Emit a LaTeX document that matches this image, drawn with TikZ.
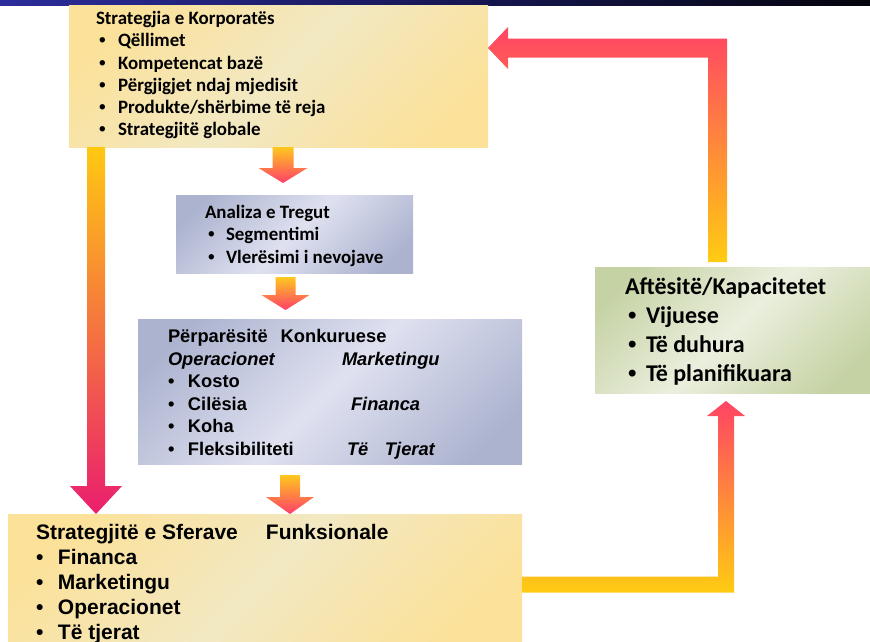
\documentclass[tikz,border=0pt]{standalone}
\usepackage{fontspec}
\usetikzlibrary{calc}
\newfontfamily\calfont{Carlito}
\newfontfamily\arfont{Liberation Sans}

% panel and arrow colours
\definecolor{barblue}{RGB}{44,44,155}
\definecolor{barmid}{RGB}{24,24,88}
\definecolor{barend}{RGB}{4,4,12}
\definecolor{goldA}{RGB}{252,225,152}
\definecolor{goldB}{RGB}{242,232,194}
\definecolor{blueA}{RGB}{172,179,207}
\definecolor{blueB}{RGB}{223,225,240}
\definecolor{greenA}{RGB}{197,210,164}
\definecolor{greenB}{RGB}{235,239,222}
\definecolor{ayellow}{RGB}{255,204,18}
\definecolor{ared}{RGB}{255,68,100}
\definecolor{amagenta}{RGB}{234,30,110}
\definecolor{atop}{RGB}{255,200,30}
\definecolor{atip}{RGB}{255,62,106}

% diagonal sheen: tinted corners, pale band across the middle
\pgfdeclarehorizontalshading{goldsheen}{100bp}{color(0bp)=(goldA); color(22bp)=(goldA); color(50bp)=(goldB); color(78bp)=(goldA); color(100bp)=(goldA)}
\pgfdeclarehorizontalshading{bluesheen}{100bp}{color(0bp)=(blueA); color(22bp)=(blueA); color(50bp)=(blueB); color(78bp)=(blueA); color(100bp)=(blueA)}
\pgfdeclarehorizontalshading{greensheen}{100bp}{color(0bp)=(greenA); color(22bp)=(greenA); color(50bp)=(greenB); color(78bp)=(greenA); color(100bp)=(greenA)}

% straight block arrow pointing down: style, top point, tip point,
% shaft half width, head half width, head length
\newcommand\dropblock[6]{%
  \path[#1] let \p1=(#2), \p2=(#3) in
    (\x1-#4,\y1) -- (\x1+#4,\y1) -- (\x1+#4,\y2+#6) -- (\x1+#5,\y2+#6)
    -- (\x1,\y2) -- (\x1-#5,\y2+#6) -- (\x1-#4,\y2+#6) -- cycle;}

\tikzset{
  panel/.style={anchor=north west, inner sep=0pt, outer sep=0pt, shade, shading angle=-45},
  goldpanel/.style={panel, shading=goldsheen},
  bluepanel/.style={panel, shading=bluesheen},
  greenpanel/.style={panel, shading=greensheen},
  dropshade/.style={top color=atop, bottom color=atip},
  longshade/.style={top color=ayellow!95!orange, bottom color=amagenta},
  elbowshade/.style={top color=ared, bottom color=ayellow},
  txt/.style={anchor=base west, inner sep=0pt, outer sep=0pt, text=black},
  caltxt/.style={txt, font=\calfont\bfseries\fontsize{18.9}{22}\selectfont},
  capstxt/.style={txt, font=\calfont\bfseries\fontsize{24}{28}\selectfont},
  artxt/.style={txt, font=\arfont\bfseries\fontsize{18.3}{22}\selectfont},
  arbig/.style={txt, font=\arfont\bfseries\fontsize{21}{25}\selectfont},
}
% bullet set in a box of the given width
\newcommand\bul[1]{\makebox[#1][l]{\textbullet}}
% round bullet taken from the sans face, for the Carlito lists
\newcommand\dotbul[1]{\makebox[#1][l]{\arfont\textbullet}}

\begin{document}
\begin{tikzpicture}[x=1pt, y=-1pt]
\useasboundingbox (0,0) rectangle (870,641);
\clip (0,0) rectangle (870,641);

% title bar strip along the top edge
\fill[left color=barblue, right color=barend, middle color=barmid] (0,0) rectangle (870,5);

% panels
\node[goldpanel, minimum width=419pt, minimum height=142pt] (corp) at (69,5) {};
\node[bluepanel, minimum width=237pt, minimum height=78pt] (ana) at (176,195) {};
\node[bluepanel, minimum width=384pt, minimum height=145pt] (comp) at (138,319) {};
\node[goldpanel, minimum width=514pt, minimum height=127pt] (func) at (8,514) {};
\node[greenpanel, minimum width=275pt, minimum height=126pt] (cap) at (595,267) {};

% downward block arrows
\dropblock{dropshade}{$(corp.south west)+(214,0)$}{$(ana.north west)+(107,-12)$}{10.5pt}{24.5pt}{15pt}
\dropblock{dropshade}{$(ana.south west)+(109.5,4)$}{$(comp.north west)+(147.5,-9)$}{10pt}{24pt}{15pt}
\dropblock{dropshade}{$(comp.south west)+(152,11)$}{$(func.north west)+(282,0)$}{10pt}{24pt}{17pt}
\dropblock{longshade}{$(corp.south west)+(27,0)$}{$(func.north west)+(88,0)$}{9pt}{26pt}{28pt}

% functional strategies -> capabilities
\path[elbowshade] let \p1=($(func.north east)+(0,70.5)$), \p2=($(cap.south west)+(131,8)$) in
  (\x1,\y1+8pt) -- (\x2-8pt,\y1+8pt) -- (\x2-8pt,\y2-15pt) -- (\x2-19pt,\y2-15pt)
  -- (\x2,\y2) -- (\x2+19pt,\y2-15pt) -- (\x2+8pt,\y2-15pt) -- (\x2+8pt,\y1-8pt)
  -- (\x1,\y1-8pt) -- cycle;

% capabilities -> corporate strategy
\path[elbowshade] let \p1=($(cap.north west)+(122.5,-5)$), \p2=($(corp.north east)+(0,43)$) in
  (\x1-9.5pt,\y1) -- (\x1-9.5pt,\y2-9.5pt) -- (\x2+20pt,\y2-9.5pt) -- (\x2+20pt,\y2-21pt)
  -- (\x2,\y2) -- (\x2+20pt,\y2+21pt) -- (\x2+20pt,\y2+9.5pt) -- (\x1+9.5pt,\y2+9.5pt)
  -- (\x1+9.5pt,\y1) -- cycle;

% corporate strategy
\node[caltxt] (corp-t) at (96,24.7) {Strategjia e Korporatës};
\node[caltxt] (corp-1) at (99,46.9) {\dotbul{19pt}Qëllimet};
\node[caltxt] (corp-2) at (99,69.1) {\dotbul{19pt}Kompetencat bazë};
\node[caltxt] (corp-3) at (99,91.3) {\dotbul{19pt}Përgjigjet ndaj mjedisit};
\node[caltxt] (corp-4) at (99,113.5) {\dotbul{19pt}Produkte/shërbime të reja};
\node[caltxt] (corp-5) at (99,135.7) {\dotbul{19pt}Strategjitë globale};

% market analysis
\node[caltxt] (ana-t) at (205,218) {Analiza e Tregut};
\node[caltxt] (ana-1) at (208,240.5) {\dotbul{18pt}Segmentimi};
\node[caltxt] (ana-2) at (208,263) {\dotbul{18pt}Vlerësimi i nevojave};

% competitive advantages
\node[artxt] (comp-t) at (168,342.5) {\makebox[112.7pt][l]{Përparësitë}Konkuruese};
\node[artxt] (comp-a) at (168,365) {\makebox[174pt][l]{\itshape Operacionet}\textit{Marketingu}};
\node[artxt] (comp-1) at (168,387.5) {\bul{20pt}Kosto};
\node[artxt] (comp-2) at (168,410) {\bul{20pt}\makebox[163pt][l]{Cilësia}\textit{Financa}};
\node[artxt] (comp-3) at (168,432.5) {\bul{20pt}Koha};
\node[artxt] (comp-4) at (168,455) {\bul{20pt}\makebox[159pt][l]{Fleksibiliteti}\makebox[38pt][l]{\itshape Të}\textit{Tjerat}};

% functional strategies
\node[arbig] (func-t) at (36,539) {\makebox[230pt][l]{Strategjitë e Sferave}Funksionale};
\node[arbig] (func-1) at (36,564) {\bul{22pt}Financa};
\node[arbig] (func-2) at (36,589.5) {\bul{22pt}Marketingu};
\node[arbig] (func-3) at (36,614.5) {\bul{22pt}Operacionet};
\node[arbig] (func-4) at (36,639) {\bul{22pt}Të tjerat};

% capabilities
\node[capstxt] (cap-t) at (625,294) {Aftësitë/Kapacitetet};
\node[capstxt] (cap-1) at (628,323) {\dotbul{18pt}Vijuese};
\node[capstxt] (cap-2) at (628,352) {\dotbul{18pt}Të duhura};
\node[capstxt] (cap-3) at (628,381) {\dotbul{18pt}Të planifikuara};
\end{tikzpicture}
\end{document}
